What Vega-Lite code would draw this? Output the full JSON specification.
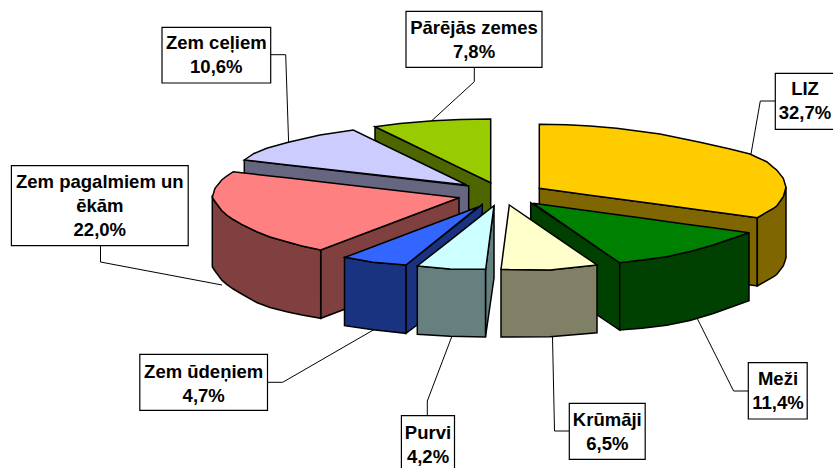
{"$schema":"https://vega.github.io/schema/vega-lite/v6.json","width":833,"height":468,"padding":0,"autosize":{"type":"fit","contains":"padding"},"background":"white","config":{"view":{"stroke":null}},
"datasets":{
"shapes":[
{"s":"Pārējās side","x":375,"y":126.7,"y2":140},{"s":"Pārējās side","x":490.7,"y":182.7,"y2":225},
{"s":"Pārējās top","x":375,"y":126.7,"y2":126.7},{"s":"Pārējās top","x":400,"y":123.5,"y2":138.8},{"s":"Pārējās top","x":433.3,"y":120.7,"y2":154.9},{"s":"Pārējās top","x":460,"y":119.5,"y2":167.8},{"s":"Pārējās top","x":490.7,"y":119,"y2":182.7},
{"s":"Ceļi side","x":244.3,"y":160,"y2":185},{"s":"Ceļi side","x":468.7,"y":186,"y2":215},
{"s":"Ceļi top","x":244.3,"y":160,"y2":160},{"s":"Ceļi top","x":254,"y":153.5,"y2":161},{"s":"Ceļi top","x":266.7,"y":148.3,"y2":162.5},{"s":"Ceļi top","x":288.3,"y":142.3,"y2":164.9},{"s":"Ceļi top","x":320,"y":135,"y2":168.5},{"s":"Ceļi top","x":353.3,"y":130,"y2":172.2},{"s":"Ceļi top","x":466.7,"y":185,"y2":185},
{"s":"LIZ inner","x":539.3,"y":188.3,"y2":257},{"s":"LIZ inner","x":757.3,"y":217.7,"y2":286},
{"s":"LIZ side","x":757.3,"y":217.7,"y2":286},{"s":"LIZ side","x":766.7,"y":212.2,"y2":280.7},{"s":"LIZ side","x":773.3,"y":208.3,"y2":276.8},{"s":"LIZ side","x":776.7,"y":206,"y2":274.5},{"s":"LIZ side","x":783.3,"y":196.7,"y2":266},{"s":"LIZ side","x":786,"y":187.3,"y2":258},
{"s":"LIZ top","x":539.3,"y":124.3,"y2":188.3},{"s":"LIZ top","x":566.7,"y":124.7,"y2":192},{"s":"LIZ top","x":590,"y":126,"y2":195.2},{"s":"LIZ top","x":616.7,"y":128.3,"y2":198.7},{"s":"LIZ top","x":660,"y":134,"y2":204.6},{"s":"LIZ top","x":700,"y":142.3,"y2":210},{"s":"LIZ top","x":730,"y":149,"y2":214},{"s":"LIZ top","x":750,"y":154,"y2":216.7},{"s":"LIZ top","x":757.3,"y":157.5,"y2":217.7},{"s":"LIZ top","x":766.7,"y":161.7,"y2":212.2},{"s":"LIZ top","x":773.3,"y":167.3,"y2":208.3},{"s":"LIZ top","x":776.7,"y":170,"y2":206},{"s":"LIZ top","x":783.3,"y":178.3,"y2":196.7},{"s":"LIZ top","x":786,"y":187.3,"y2":187.3},
{"s":"Pagalmi inner","x":320.7,"y":250,"y2":318.3},{"s":"Pagalmi inner","x":459,"y":197.7,"y2":266},
{"s":"Pagalmi side","x":212.3,"y":197.3,"y2":266.7},{"s":"Pagalmi side","x":215,"y":201.5,"y2":271},{"s":"Pagalmi side","x":221.7,"y":210.5,"y2":280},{"s":"Pagalmi side","x":226.7,"y":215,"y2":284.4},{"s":"Pagalmi side","x":233.3,"y":219.5,"y2":289},{"s":"Pagalmi side","x":241.7,"y":224.3,"y2":294},{"s":"Pagalmi side","x":256.7,"y":231.7,"y2":302.5},{"s":"Pagalmi side","x":270,"y":237,"y2":307.5},{"s":"Pagalmi side","x":286.7,"y":241.7,"y2":311.7},{"s":"Pagalmi side","x":302,"y":246,"y2":315},{"s":"Pagalmi side","x":320.7,"y":250,"y2":318.3},
{"s":"Pagalmi top","x":212.3,"y":197.3,"y2":197.3},{"s":"Pagalmi top","x":215,"y":188.3,"y2":201.5},{"s":"Pagalmi top","x":221.7,"y":180,"y2":210.5},{"s":"Pagalmi top","x":226.7,"y":176,"y2":215},{"s":"Pagalmi top","x":233.3,"y":171.7,"y2":219.5},{"s":"Pagalmi top","x":241.7,"y":172.7,"y2":224.3},{"s":"Pagalmi top","x":256.7,"y":174.4,"y2":231.7},{"s":"Pagalmi top","x":270,"y":176,"y2":237},{"s":"Pagalmi top","x":286.7,"y":177.8,"y2":241.7},{"s":"Pagalmi top","x":302,"y":179.6,"y2":246},{"s":"Pagalmi top","x":320.7,"y":181.7,"y2":250},{"s":"Pagalmi top","x":459,"y":197.7,"y2":197.7},
{"s":"Meži inner","x":530.7,"y":202.7,"y2":270},{"s":"Meži inner","x":619.7,"y":262.7,"y2":330},
{"s":"Meži side","x":619.7,"y":262.7,"y2":330},{"s":"Meži side","x":642,"y":260,"y2":328.3},{"s":"Meži side","x":666.7,"y":256.7,"y2":325.3},{"s":"Meži side","x":690,"y":251.5,"y2":320.5},{"s":"Meži side","x":713.3,"y":245,"y2":313.5},{"s":"Meži side","x":749,"y":232.7,"y2":300.7},
{"s":"Meži top","x":533.3,"y":203.3,"y2":203.3},{"s":"Meži top","x":619.3,"y":215,"y2":262.7},{"s":"Meži top","x":642,"y":218.1,"y2":260},{"s":"Meži top","x":666.7,"y":221.5,"y2":256.7},{"s":"Meži top","x":690,"y":224.7,"y2":251.5},{"s":"Meži top","x":713.3,"y":227.8,"y2":245},{"s":"Meži top","x":749,"y":232.7,"y2":232.7},
{"s":"Ūdeņi inner","x":406,"y":265,"y2":333.3},{"s":"Ūdeņi inner","x":417,"y":256.2,"y2":325},{"s":"Ūdeņi inner","x":482.3,"y":204.3,"y2":213.3},
{"s":"Ūdeņi front","x":344.5,"y":257.3,"y2":325.7},{"s":"Ūdeņi front","x":373,"y":262.3,"y2":329.8},{"s":"Ūdeņi front","x":406,"y":265,"y2":333.3},
{"s":"Ūdeņi top","x":345,"y":257.3,"y2":257.3},{"s":"Ūdeņi top","x":373,"y":246.7,"y2":262.3},{"s":"Ūdeņi top","x":406,"y":234.3,"y2":265},{"s":"Ūdeņi top","x":478,"y":207,"y2":207},
{"s":"Purvi side","x":485.5,"y":269.3,"y2":337},{"s":"Purvi side","x":494,"y":205.7,"y2":278},
{"s":"Purvi front","x":417.3,"y":266,"y2":334.3},{"s":"Purvi front","x":450,"y":269,"y2":336.3},{"s":"Purvi front","x":485.5,"y":269.3,"y2":337},
{"s":"Purvi top","x":417.3,"y":266,"y2":266},{"s":"Purvi top","x":450,"y":240.3,"y2":269},{"s":"Purvi top","x":485.7,"y":212.2,"y2":269.3},{"s":"Purvi top","x":494,"y":205.7,"y2":205.7},
{"s":"Krūmāji front","x":501,"y":269.3,"y2":337},{"s":"Krūmāji front","x":550,"y":270,"y2":336.7},{"s":"Krūmāji front","x":597,"y":265,"y2":332.7},
{"s":"Krūmāji top","x":501,"y":269.3,"y2":269.3},{"s":"Krūmāji top","x":509.3,"y":205,"y2":269.6},{"s":"Krūmāji top","x":550,"y":232.9,"y2":270},{"s":"Krūmāji top","x":597,"y":265,"y2":265}
],
"leaders":[
{"n":"Pārējās","o":1,"x":474.3,"y":67.3},{"n":"Pārējās","o":2,"x":474.3,"y":81.7},{"n":"Pārējās","o":3,"x":431.4,"y":121},
{"n":"Ceļi","o":1,"x":270.7,"y":54.7},{"n":"Ceļi","o":2,"x":285.7,"y":54.7},{"n":"Ceļi","o":3,"x":288.6,"y":142},
{"n":"Pagalmi","o":1,"x":100.5,"y":245.7},{"n":"Pagalmi","o":2,"x":100.5,"y":262},{"n":"Pagalmi","o":3,"x":222,"y":285},
{"n":"Ūdeņi","o":1,"x":267.5,"y":382.3},{"n":"Ūdeņi","o":2,"x":282.7,"y":382.3},{"n":"Ūdeņi","o":3,"x":375,"y":329},
{"n":"Purvi","o":1,"x":427.3,"y":415.7},{"n":"Purvi","o":2,"x":427.3,"y":401},{"n":"Purvi","o":3,"x":452,"y":336},
{"n":"Krūmāji","o":1,"x":569.3,"y":431},{"n":"Krūmāji","o":2,"x":554.5,"y":431},{"n":"Krūmāji","o":3,"x":552.5,"y":337},
{"n":"Meži","o":1,"x":748.3,"y":391},{"n":"Meži","o":2,"x":733.6,"y":391},{"n":"Meži","o":3,"x":696,"y":316},
{"n":"LIZ","o":1,"x":775.3,"y":101},{"n":"LIZ","o":2,"x":760.3,"y":101},{"n":"LIZ","o":3,"x":751,"y":154}
],
"labels":[
{"name":"LIZ","pct":32.7,"label":"LIZ\n32,7%","x":805,"y":89.3,"x0":775.3,"x1":836,"y0":73.3,"y1":129.3},
{"name":"Meži","pct":11.4,"label":"Meži\n11,4%","x":778,"y":379,"x0":748.3,"x1":807.2,"y0":362.7,"y1":419},
{"name":"Krūmāji","pct":6.5,"label":"Krūmāji\n6,5%","x":607.3,"y":420,"x0":569.3,"x1":645.2,"y0":403.3,"y1":459.3},
{"name":"Purvi","pct":4.2,"label":"Purvi\n4,2%","x":428,"y":432.7,"x0":401.4,"x1":454.5,"y0":415.7,"y1":472},
{"name":"Zem ūdeņiem","pct":4.7,"label":"Zem ūdeņiem\n4,7%","x":203.7,"y":371.7,"x0":139.8,"x1":267.5,"y0":354.3,"y1":410.3},
{"name":"Zem pagalmiem un ēkām","pct":22.0,"label":"Zem pagalmiem un\nēkām\n22,0%","x":99.8,"y":182,"x0":11.4,"x1":188.2,"y0":165.7,"y1":245.7},
{"name":"Zem ceļiem","pct":10.6,"label":"Zem ceļiem\n10,6%","x":216.3,"y":43.3,"x0":162,"x1":270.7,"y0":27.3,"y1":83},
{"name":"Pārējās zemes","pct":7.8,"label":"Pārējās zemes\n7,8%","x":474,"y":28,"x0":406,"x1":542,"y0":11.3,"y1":67.3}
]},
"layer":[
{"data":{"name":"leaders"},"mark":{"type":"line","color":"black","strokeWidth":1,"interpolate":"linear"},
"encoding":{"x":{"field":"x","type":"quantitative","scale":{"domain":[0,833],"nice":false,"zero":false},"axis":null},"y":{"field":"y","type":"quantitative","scale":{"domain":[468,0],"nice":false,"zero":false},"axis":null},"detail":{"field":"n"},"order":{"field":"o","type":"ordinal"}}},
{"data":{"name":"shapes"},"mark":{"type":"area","stroke":"black","strokeWidth":1.5,"strokeJoin":"miter","fillOpacity":1,"interpolate":"linear"},
"encoding":{"x":{"field":"x","type":"quantitative","scale":{"domain":[0,833],"nice":false,"zero":false},"axis":null},"y":{"field":"y","type":"quantitative","stack":null,"scale":{"domain":[468,0],"nice":false,"zero":false},"axis":null},"y2":{"field":"y2"},
"color":{"field":"s","type":"nominal","legend":null,"scale":{"domain":["Pārējās side","Pārējās top","Ceļi side","Ceļi top","LIZ inner","LIZ side","LIZ top","Pagalmi inner","Pagalmi side","Pagalmi top","Meži inner","Meži side","Meži top","Ūdeņi inner","Ūdeņi front","Ūdeņi top","Purvi side","Purvi front","Purvi top","Krūmāji front","Krūmāji top"],"range":["#4D6600","#99CC00","#666680","#CCCCFF","#806600","#806600","#FFCC00","#804040","#804040","#FF8080","#004000","#004000","#008000","#1A3380","#1A3380","#3366FF","#668080","#668080","#CCFFFF","#808066","#FFFFCC"]}}}},
{"data":{"name":"labels"},"mark":{"type":"rect","fill":"white","stroke":"black","strokeWidth":1.2,"clip":true},
"encoding":{"x":{"field":"x0","type":"quantitative","scale":{"domain":[0,833],"nice":false,"zero":false},"axis":null},"x2":{"field":"x1"},"y":{"field":"y0","type":"quantitative","scale":{"domain":[468,0],"nice":false,"zero":false},"axis":null},"y2":{"field":"y1"}}},
{"data":{"name":"labels"},"mark":{"type":"text","font":"Liberation Sans","fontWeight":"bold","fontSize":18.5,"lineBreak":"\n","lineHeight":24,"align":"center","baseline":"middle","color":"black"},
"encoding":{"x":{"field":"x","type":"quantitative","scale":{"domain":[0,833],"nice":false,"zero":false},"axis":null},"y":{"field":"y","type":"quantitative","scale":{"domain":[468,0],"nice":false,"zero":false},"axis":null},"text":{"field":"label"}}}
]}
